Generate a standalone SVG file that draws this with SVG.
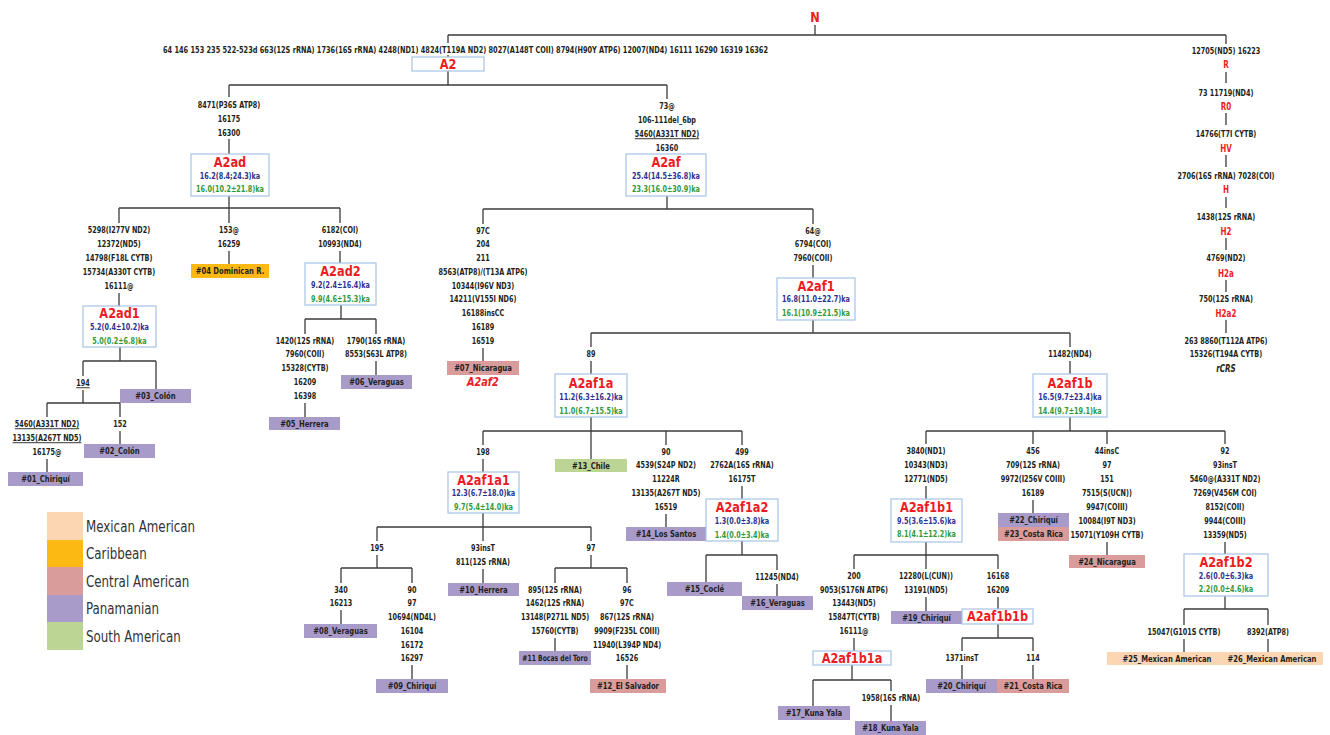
<svg xmlns="http://www.w3.org/2000/svg" width="1330" height="735" viewBox="0 0 1330 735">
<style>
text{font-family:'Liberation Sans Narrow','DejaVu Sans Condensed','Liberation Sans',sans-serif;font-weight:bold;font-size:9px;fill:#231f20;text-anchor:middle;transform-box:fill-box;transform-origin:center;transform:scaleX(0.8)}
.n{font-size:14px;fill:#ed1c24;transform:scaleX(0.9)}
.r{font-size:10px;fill:#ed1c24}
.b{font-size:9px;fill:#2e3192}
.g{font-size:9px;fill:#2f9a3a}
.l{font-size:9.5px}
.u{text-decoration:underline}
.it{font-style:italic}
.nt{transform:none}
.box{fill:#fff;stroke:#a9c4e4;stroke-width:1.2}
.pan{fill:#a99bc9}.cen{fill:#d99c9b}.car{fill:#fdb913}.sou{fill:#bcd595}.mex{fill:#fcd6b2}
.c{stroke:#3c3c3c;stroke-width:1.3;fill:none}
.lg{font-weight:normal;font-size:15px;text-anchor:start;fill:#333;transform-origin:0 50%;transform:scaleX(0.88)}
</style>
<g id="connectors" class="c">
<path d="M815,25V35M448,35H1226M448,35V43M448,55V57M1226,35V44M1226,72V83M1226,113V125M1226,155V167M1226,197V208M1226,238V250M1226,280V292M1226,320V333"/>
<path d="M448,71V85M229,85H667"/>
<path d="M229,85V97M229,139V154M229,196V208M119,208H340M119,208V223M229,208V223M340,208V223"/>
<path d="M119,293V306M120,347V361M83,361H156M83,361V376M156,361V389M83,390V403M47,403H120M47,403V417M120,403V417M47,459V472M120,431V444"/>
<path d="M229,251V264M340,251V263M341,305V319M305,319H376M305,319V334M376,319V334M305,403V417M376,361V375"/>
<path d="M667,85V99M667,196V209M483,209H813M483,209V224M813,209V224M483,348V361"/>
<path d="M813,265V278M813,320V333M591,333H1070M591,333V347M1070,333V347"/>
<path d="M591,361V374M591,417V431M483,431H742M483,431V445M591,431V459M666,431V445M742,431V445"/>
<path d="M483,459V472M483,513V527M377,527H591M377,527V541M483,527V541M591,527V541"/>
<path d="M377,555V568M341,568H412M341,568V583M412,568V583M341,610V624M412,665V679M483,569V583"/>
<path d="M591,555V568M555,568H627M555,568V583M627,568V583M555,638V651M627,665V679"/>
<path d="M666,514V527M742,486V499M742,541V555M706,555H777M706,555V582M777,555V570M777,584V596"/>
<path d="M1070,361V374M1070,417V431M926,431H1225M926,431V444M1033,431V444M1107,431V444M1225,431V444"/>
<path d="M926,486V499M926,542V555M854,555H998M854,555V569M926,555V569M998,555V569"/>
<path d="M854,638V651M852,665V680M813,680H891M813,680V706M891,680V691M891,705V721"/>
<path d="M926,597V611M998,597V609M998,624V638M962,638H1033M962,638V651M1033,638V651M962,665V679M1033,665V679"/>
<path d="M1033,500V513M1107,542V555M1225,542V554M1225,596V609M1184,609H1268M1184,609V625M1268,609V625M1184,639V652M1268,639V652"/>
</g>
<g id="N"><text class="n" x="815" y="22.5">N</text></g>
<g id="mut-A2"><text class="nt" x="163" y="53.2" style="text-anchor:start" textLength="605" lengthAdjust="spacingAndGlyphs">64 146 153  235  522-523d 663(12S rRNA)  1736(16S rRNA)  4248(ND1)  4824(T119A ND2)  8027(A148T COII)  8794(H90Y ATP6)  12007(ND4)  16111  16290  16319 16362</text></g>
<g id="A2"><rect class="box" x="412" y="57" width="72" height="14"/><text class="n" x="448" y="68.8">A2</text></g>
<g id="R-chain">
<text x="1226" y="54">12705(ND5) 16223</text><text class="r" x="1226" y="68">R</text>
<text x="1226" y="96">73 11719(ND4)</text><text class="r" x="1226" y="110">R0</text>
<text x="1226" y="137">14766(T7I CYTB)</text><text class="r" x="1226" y="152">HV</text>
<text x="1226" y="179">2706(16S rRNA) 7028(COI)</text><text class="r" x="1226" y="193">H</text>
<text x="1226" y="220">1438(12S rRNA)</text><text class="r" x="1226" y="235">H2</text>
<text x="1226" y="261">4769(ND2)</text><text class="r" x="1226" y="277">H2a</text>
<text x="1226" y="302">750(12S rRNA)</text><text class="r" x="1226" y="317">H2a2</text>
<text x="1226" y="344">263 8860(T112A ATP6)</text><text x="1226" y="357">15326(T194A CYTB)</text>
<text class="it" x="1226" y="372.5" style="font-size:10px">rCRS</text>
</g>
<g id="A2ad">
<text x="229" y="108.2">8471(P36S ATP8)</text><text x="229" y="122.2">16175</text><text x="229" y="136.2">16300</text>
<rect class="box" x="191" y="154" width="78" height="42"/>
<text class="n" x="230" y="167">A2ad</text><text class="b" x="230" y="179.2">16.2(8.4;24.3)ka</text><text class="g" x="230" y="192.2">16.0(10.2±21.8)ka</text>
</g>
<g id="A2ad1">
<text x="119" y="233.2">5298(I277V ND2)</text><text x="119" y="247.2">12372(ND5)</text><text x="119" y="261.2">14798(F18L CYTB)</text><text x="119" y="275.2">15734(A330T CYTB)</text><text x="119" y="289.2">16111@</text>
<rect class="box" x="83" y="306" width="73" height="41"/>
<text class="n" x="119.5" y="318">A2ad1</text><text class="b" x="119.5" y="330.2">5.2(0.4±10.2)ka</text><text class="g" x="119.5" y="344.2">5.0(0.2±6.8)ka</text>
<text class="u" x="83" y="386.2">194</text>
</g>
<g id="leaf03"><rect class="pan" x="120" y="389" width="71" height="14"/><text class="l" x="155.5" y="399.3">#03_Colón</text></g>
<g id="leaf01">
<text class="u" x="47" y="427.2">5460(A331T ND2)</text><text class="u" x="47" y="441.2">13135(A267T ND5)</text><text x="47" y="455.2">16175@</text>
<rect class="pan" x="8" y="472" width="75" height="14"/><text class="l" x="45.5" y="482.3">#01_Chiriquí</text></g>
<g id="leaf02"><text x="120" y="427.2">152</text><rect class="pan" x="84" y="444" width="71" height="14"/><text class="l" x="119.5" y="454.3">#02_Colón</text></g>
<g id="leaf04"><text x="229" y="233.2">153@</text><text x="229" y="247.2">16259</text><rect class="car" x="191" y="264" width="78" height="14"/><text class="l" x="230" y="274.3">#04 Dominican R.</text></g>
<g id="A2ad2">
<text x="340" y="233.2">6182(COI)</text><text x="340" y="247.2">10993(ND4)</text>
<rect class="box" x="305" y="263" width="71" height="42"/>
<text class="n" x="340.5" y="276">A2ad2</text><text class="b" x="340.5" y="288.2">9.2(2.4±16.4)ka</text><text class="g" x="340.5" y="302.2">9.9(4.6±15.3)ka</text>
</g>
<g id="leaf05">
<text x="305" y="344.2">1420(12S rRNA)</text><text x="305" y="357.2">7960(COII)</text><text x="305" y="371.2">15328(CYTB)</text><text x="305" y="385.2">16209</text><text x="305" y="399.2">16398</text>
<rect class="pan" x="269" y="417" width="71" height="13"/><text class="l" x="304.5" y="427">#05_Herrera</text></g>
<g id="leaf06"><text x="376" y="344.2">1790(16S rRNA)</text><text x="376" y="357.2">8553(S63L ATP8)</text><rect class="pan" x="341" y="375" width="71" height="14"/><text class="l" x="376.5" y="385.3">#06_Veraguas</text></g>
<g id="A2af">
<text x="667" y="109.2">73@</text><text x="667" y="123.2">106-111del_6bp</text><text class="u" x="667" y="137.2">5460(A331T ND2)</text><text x="667" y="151.2">16360</text>
<rect class="box" x="626" y="154" width="80" height="42"/>
<text class="n" x="666" y="167">A2af</text><text class="b" x="666" y="179.2">25.4(14.5±36.8)ka</text><text class="g" x="666" y="192.2">23.3(16.0±30.9)ka</text>
</g>
<g id="leaf07">
<text x="483" y="234.2">97C</text><text x="483" y="247.2">204</text><text x="483" y="261.2">211</text><text x="483" y="275.2">8563(ATP8)/(T13A ATP6)</text><text x="483" y="289.2">10344(I96V ND3)</text><text x="483" y="302.2">14211(V155I ND6)</text><text x="483" y="316.2">16188insCC</text><text x="483" y="330.2">16189</text><text x="483" y="344.2">16519</text>
<rect class="cen" x="447" y="361" width="72" height="14"/><text class="l" x="483" y="371.3">#07_Nicaragua</text>
<text class="n it" x="483" y="386.5" style="font-size:12px">A2af2</text></g>
<g id="A2af1">
<text x="813" y="234.2">64@</text><text x="813" y="247.2">6794(COI)</text><text x="813" y="261.2">7960(COII)</text>
<rect class="box" x="777" y="278" width="78" height="42"/>
<text class="n" x="816" y="291">A2af1</text><text class="b" x="816" y="302.2">16.8(11.0±22.7)ka</text><text class="g" x="816" y="316.2">16.1(10.9±21.5)ka</text>
</g>
<g id="A2af1a">
<text x="591" y="357.2">89</text>
<rect class="box" x="555" y="374" width="72" height="43"/>
<text class="n" x="591" y="388">A2af1a</text><text class="b" x="591" y="400.2">11.2(6.3±16.2)ka</text><text class="g" x="591" y="414.2">11.0(6.7±15.5)ka</text>
</g>
<g id="leaf13"><rect class="sou" x="555" y="459" width="72" height="13"/><text class="l" x="591" y="469">#13_Chile</text></g>
<g id="A2af1a1">
<text x="483" y="455.2">198</text>
<rect class="box" x="448" y="472" width="71" height="41"/>
<text class="n" x="483.5" y="485">A2af1a1</text><text class="b" x="483.5" y="496.2">12.3(6.7±18.0)ka</text><text class="g" x="483.5" y="510.2">9.7(5.4±14.0)ka</text>
<text x="377" y="551.2">195</text>
</g>
<g id="leaf08"><text x="341" y="593.2">340</text><text x="341" y="606.2">16213</text><rect class="pan" x="304" y="624" width="73" height="14"/><text class="l" x="340.5" y="634.3">#08_Veraguas</text></g>
<g id="leaf09">
<text x="412" y="593.2">90</text><text x="412" y="606.2">97</text><text x="412" y="620.2">10694(ND4L)</text><text x="412" y="634.2">16104</text><text x="412" y="648.2">16172</text><text x="412" y="661.2">16297</text>
<rect class="pan" x="376" y="679" width="72" height="14"/><text class="l" x="412" y="689.3">#09_Chiriquí</text></g>
<g id="leaf10"><text x="483" y="551.2">93insT</text><text x="483" y="565.2">811(12S rRNA)</text><rect class="pan" x="448" y="583" width="71" height="13"/><text class="l" x="483.5" y="593">#10_Herrera</text></g>
<g id="node97"><text x="591" y="551.2">97</text></g>
<g id="leaf11">
<text x="555" y="593.2">895(12S rRNA)</text><text x="555" y="606.2">1462(12S rRNA)</text><text x="555" y="620.2">13148(P271L ND5)</text><text x="555" y="634.2">15760(CYTB)</text>
<rect class="pan" x="519" y="651" width="72" height="14"/><text x="555" y="661" style="font-size:8.5px">#11 Bocas del Toro</text></g>
<g id="leaf12">
<text x="627" y="593.2">96</text><text x="627" y="606.2">97C</text><text x="627" y="620.2">867(12S rRNA)</text><text x="627" y="634.2">9909(F235L COIII)</text><text x="627" y="648.2">11940(L394P ND4)</text><text x="627" y="661.2">16526</text>
<rect class="cen" x="590" y="679" width="76" height="14"/><text class="l" x="628" y="689.3">#12_El Salvador</text></g>
<g id="leaf14">
<text x="666" y="455.2">90</text><text x="666" y="468.2">4539(S24P ND2)</text><text x="666" y="482.2">11224R</text><text x="666" y="496.2">13135(A267T ND5)</text><text x="666" y="510.2">16519</text>
<rect class="pan" x="626" y="527" width="80" height="14"/><text class="l" x="666" y="537.3">#14_Los Santos</text></g>
<g id="A2af1a2">
<text x="742" y="455.2">499</text><text x="742" y="468.2">2762A(16S rRNA)</text><text x="742" y="482.2">16175T</text>
<rect class="box" x="706" y="499" width="72" height="42"/>
<text class="n" x="742" y="512">A2af1a2</text><text class="b" x="742" y="524.2">1.3(0.0±3.8)ka</text><text class="g" x="742" y="538.2">1.4(0.0±3.4)ka</text>
</g>
<g id="leaf15"><rect class="pan" x="667" y="582" width="75" height="14"/><text class="l" x="704.5" y="592.3">#15_Coclé</text></g>
<g id="leaf16"><text x="777" y="580.2">11245(ND4)</text><rect class="pan" x="742" y="596" width="71" height="14"/><text class="l" x="777.5" y="606.3">#16_Veraguas</text></g>
<g id="A2af1b">
<text x="1070" y="357.2">11482(ND4)</text>
<rect class="box" x="1033" y="374" width="74" height="43"/>
<text class="n" x="1070" y="388">A2af1b</text><text class="b" x="1070" y="400.2">16.5(9.7±23.4)ka</text><text class="g" x="1070" y="414.2">14.4(9.7±19.1)ka</text>
</g>
<g id="A2af1b1">
<text x="926" y="454.2">3840(ND1)</text><text x="926" y="468.2">10343(ND3)</text><text x="926" y="482.2">12771(ND5)</text>
<rect class="box" x="891" y="499" width="71" height="43"/>
<text class="n" x="926.5" y="512">A2af1b1</text><text class="b" x="926.5" y="524.2">9.5(3.6±15.6)ka</text><text class="g" x="926.5" y="537.2">8.1(4.1±12.2)ka</text>
</g>
<g id="A2af1b1a">
<text x="854" y="579.2">200</text><text x="854" y="593.2">9053(S176N ATP6)</text><text x="854" y="606.2">13443(ND5)</text><text x="854" y="620.2">15847T(CYTB)</text><text x="854" y="634.2">16111@</text>
<rect class="box" x="813" y="651" width="78" height="14"/><text class="n" x="852" y="663">A2af1b1a</text>
</g>
<g id="leaf17"><rect class="pan" x="778" y="706" width="72" height="14"/><text class="l" x="814" y="716.3">#17_Kuna Yala</text></g>
<g id="leaf18"><text x="891" y="701.2">1958(16S rRNA)</text><rect class="pan" x="855" y="721" width="71" height="14"/><text class="l" x="890.5" y="731.3">#18_Kuna Yala</text></g>
<g id="leaf19"><text x="926" y="579.2">12280(L(CUN))</text><text x="926" y="593.2">13191(ND5)</text><rect class="pan" x="891" y="611" width="71" height="13"/><text class="l" x="926.5" y="621">#19_Chiriquí</text></g>
<g id="A2af1b1b">
<text x="998" y="579.2">16168</text><text x="998" y="593.2">16209</text>
<rect class="box" x="962" y="609" width="71" height="15"/><text class="n" x="997.5" y="621.4">A2af1b1b</text>
</g>
<g id="leaf20"><text x="962" y="661.2">1371insT</text><rect class="pan" x="926" y="679" width="71" height="14"/><text class="l" x="961.5" y="689.3">#20_Chiriquí</text></g>
<g id="leaf21"><text x="1033" y="661.2">114</text><rect class="cen" x="997" y="679" width="72" height="14"/><text class="l" x="1033" y="689.3">#21_Costa Rica</text></g>
<g id="leaf22-23">
<text x="1033" y="454.2">456</text><text x="1033" y="468.2">709(12S rRNA)</text><text x="1033" y="482.2">9972(I256V COIII)</text><text x="1033" y="496.2">16189</text>
<rect class="pan" x="998" y="513" width="71" height="14"/><text class="l" x="1033.5" y="523.3">#22_Chiriquí</text>
<rect class="cen" x="998" y="527" width="71" height="14"/><text class="l" x="1033.5" y="537.3">#23_Costa Rica</text></g>
<g id="leaf24">
<text x="1107" y="454.2">44insC</text><text x="1107" y="468.2">97</text><text x="1107" y="482.2">151</text><text x="1107" y="496.2">7515(S(UCN))</text><text x="1107" y="510.2">9947(COIII)</text><text x="1107" y="524.2">10084(I9T ND3)</text><text x="1107" y="538.2">15071(Y109H CYTB)</text>
<rect class="cen" x="1069" y="555" width="76" height="13"/><text class="l" x="1107" y="565">#24_Nicaragua</text></g>
<g id="A2af1b2">
<text x="1225" y="454.2">92</text><text x="1225" y="468.2">93insT</text><text x="1225" y="482.2">5460@(A331T ND2)</text><text x="1225" y="496.2">7269(V456M COI)</text><text x="1225" y="510.2">8152(COII)</text><text x="1225" y="524.2">9944(COIII)</text><text x="1225" y="538.2">13359(ND5)</text>
<rect class="box" x="1184" y="554" width="84" height="42"/>
<text class="n" x="1226" y="567">A2af1b2</text><text class="b" x="1226" y="579.2">2.6(0.0±6.3)ka</text><text class="g" x="1226" y="592.2">2.2(0.0±4.6)ka</text>
</g>
<g id="leaf25"><text x="1184" y="635.2">15047(G101S CYTB)</text><rect class="mex" x="1107" y="652" width="118" height="13"/><text class="l" x="1167" y="662">#25_Mexican American</text></g>
<g id="leaf26"><text x="1268" y="635.2">8392(ATP8)</text><rect class="mex" x="1225" y="652" width="98" height="13"/><text class="l" x="1272" y="662">#26_Mexican American</text></g>
<g id="legend">
<rect class="mex" x="47" y="512" width="36" height="28"/><text class="lg" x="86" y="532">Mexican American</text>
<rect class="car" x="47" y="540" width="36" height="27"/><text class="lg" x="86" y="559">Caribbean</text>
<rect class="cen" x="47" y="567" width="36" height="28"/><text class="lg" x="86" y="587">Central American</text>
<rect class="pan" x="47" y="595" width="36" height="27"/><text class="lg" x="86" y="614">Panamanian</text>
<rect class="sou" x="47" y="622" width="36" height="28"/><text class="lg" x="86" y="642">South American</text>
</g>
</svg>
